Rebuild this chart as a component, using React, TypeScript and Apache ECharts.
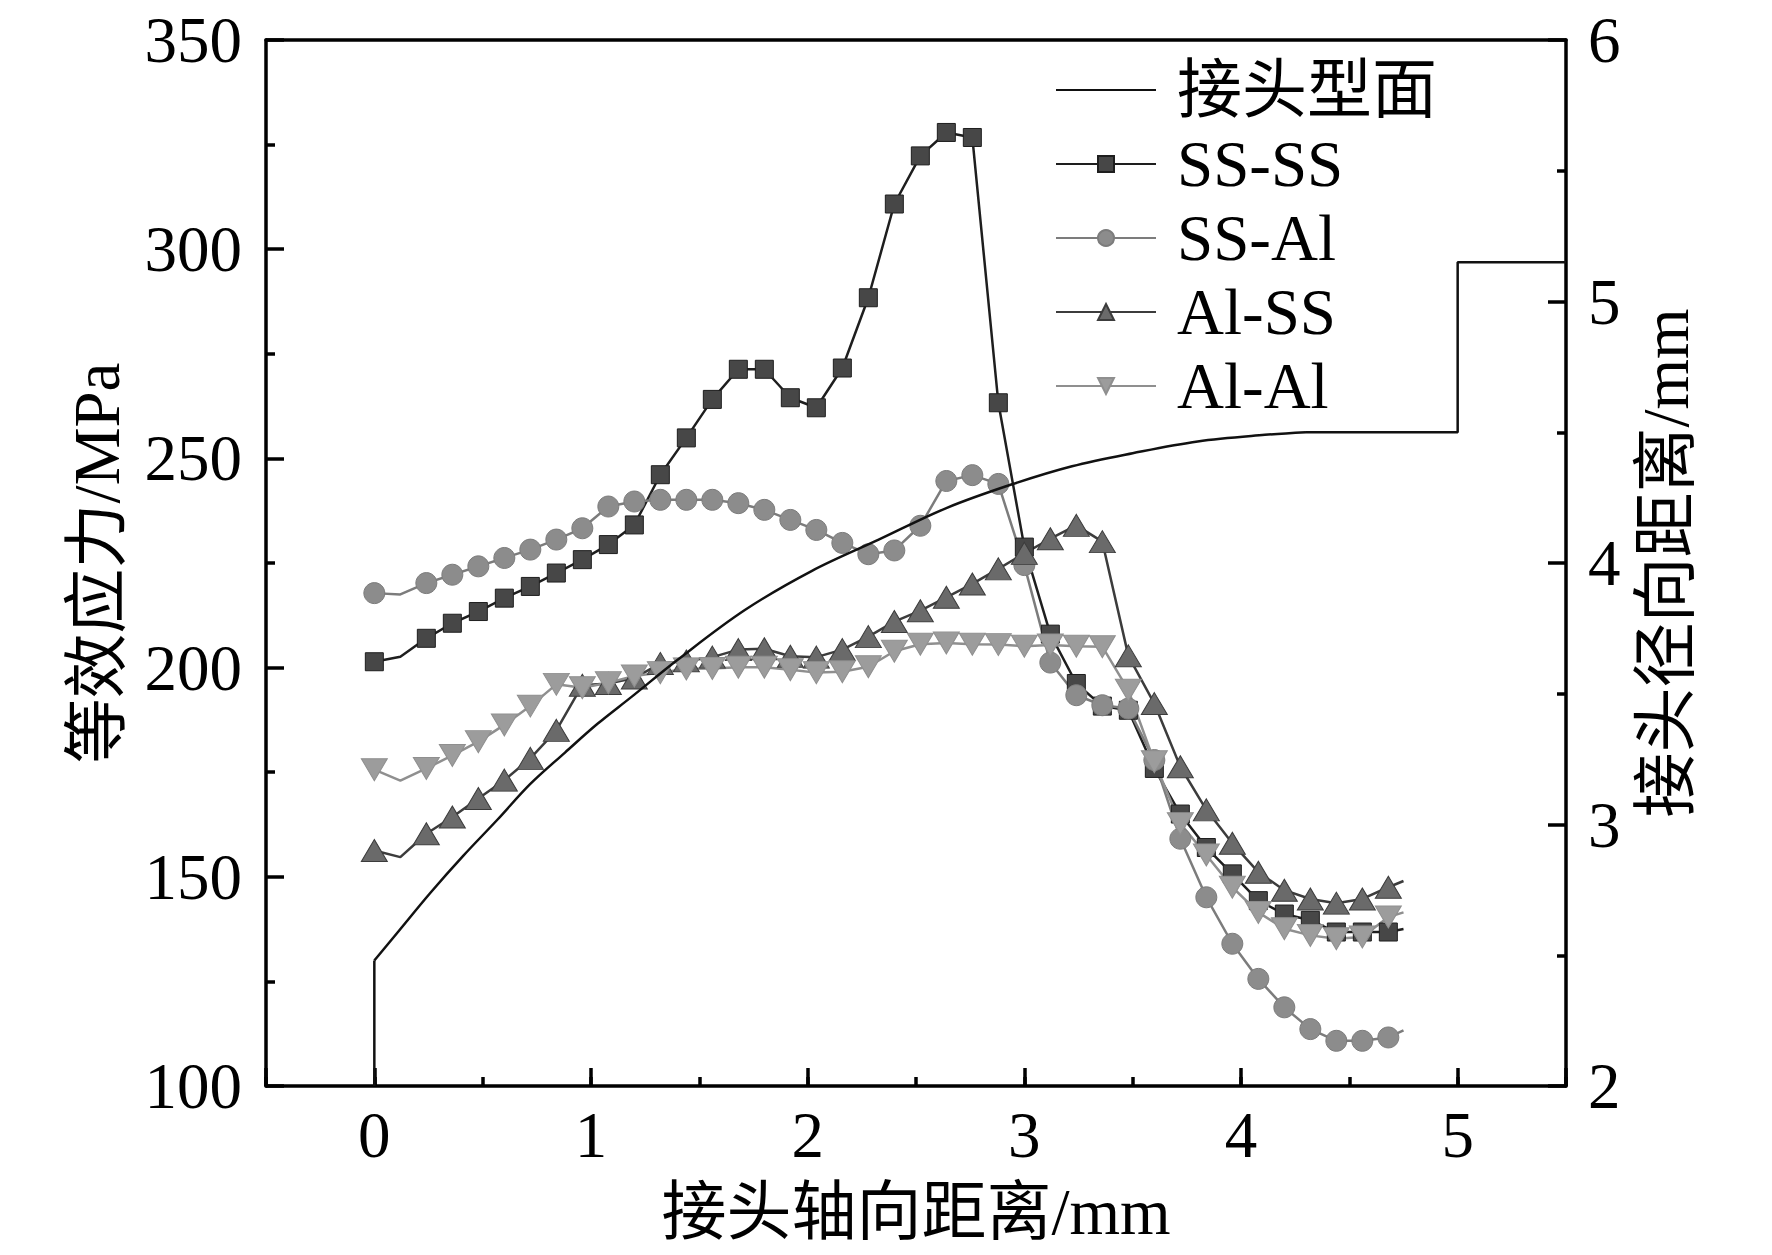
import { useEffect, useRef } from 'react'
import * as echarts from 'echarts'

// axial sampling positions (mm); the 2nd and the last point carry no marker
const axialPos = [
  0, 0.12, 0.24, 0.36, 0.48, 0.6, 0.72, 0.84, 0.96, 1.08, 1.2, 1.32, 1.44, 1.56,
  1.68, 1.8, 1.92, 2.04, 2.16, 2.28, 2.4, 2.52, 2.64, 2.76, 2.88, 3.0, 3.12, 3.24,
  3.36, 3.48, 3.6, 3.72, 3.84, 3.96, 4.08, 4.2, 4.32, 4.44, 4.56, 4.68, 4.75,
]
const hiddenMarkers = [1, 40]

const ssSS = [
  201.4, 202.6, 207, 210.6, 213.4, 216.6, 219.4, 222.6, 225.8, 229.4,
  234.1, 246.1, 254.9, 264.1, 271.3, 271.3, 264.5, 262.1, 271.6, 288.4,
  310.8, 322.3, 327.9, 326.7, 263.3, 228.8, 208, 196.2, 190.8, 189.8,
  175.9, 165, 157, 150.7, 144.3, 141.1, 139.6, 136.8, 136.8, 136.8, 137.5,
]
const ssAl = [
  217.8, 217.5, 220.2, 222.2, 224.2, 226.2, 228.2, 230.6, 233.3, 238.5,
  239.7, 240.1, 240.1, 240.1, 239.3, 237.7, 235.3, 232.9, 229.8, 227.1,
  228, 233.9, 244.6, 246, 243.9, 224.5, 201.2, 193.4, 191, 190.2,
  177.9, 159.1, 145.1, 134, 125.6, 118.8, 113.6, 110.8, 110.8, 111.6, 113.3,
]
const alSS = [
  156.3, 154.7, 160.3, 164.3, 168.7, 173.1, 178.3, 185, 195.8, 196.2,
  197.5, 201, 201.6, 202.5, 204.3, 204.5, 202.7, 202.5, 204.3, 207.4,
  211, 213.6, 216.8, 220, 223.6, 227.3, 230.8, 234, 230.1, 202.8,
  191.4, 176.3, 166, 158, 151.1, 146.8, 144.7, 143.7, 144.7, 147.5, 149,
]
const alAl = [
  175.6, 173, 175.9, 179, 182.3, 186.3, 190.8, 196, 195.2, 196.4,
  198, 198.8, 199.7, 199.8, 200.1, 200.1, 199.5, 198.8, 199, 200.2,
  203.9, 205.6, 205.9, 205.6, 205.5, 205.1, 205.4, 205.1, 205, 194.6,
  177.5, 162.7, 155.2, 147.5, 141.5, 137.6, 136, 135.2, 135.6, 140.4, 141.5,
]

// joint profile: axial position (mm) vs radial distance (mm)
// curved part (drawn smooth)
const profileCurveX = [
  0, 0.11, 0.26, 0.41, 0.57, 0.72, 0.88, 1.03, 1.19, 1.4, 1.71, 2.02, 2.33,
  2.64, 2.94, 3.22, 3.5, 3.8, 4.11, 4.3,
]
const profileCurveR = [
  2.48, 2.59, 2.74, 2.88, 3.02, 3.155, 3.275, 3.385, 3.49, 3.63, 3.82, 3.97, 4.09,
  4.21, 4.3, 4.37, 4.42, 4.465, 4.49, 4.5,
]
// straight parts: start at the root, step at the end
const profileStartX = [0, 0]
const profileStartR = [2.0, 2.48]
const profileEndX = [4.3, 5.0, 5.0, 5.5]
const profileEndR = [4.5, 4.5, 5.15, 5.15]

const leftTicks = [100, 350, 50]
const rightTicks = [2, 6, 1]

const SERIF = "'Liberation Serif', 'Times New Roman', 'Noto Sans CJK SC', serif"
const FS = 65
const PROFILE = '接头型面'

function stressData(values: number[]) {
  return axialPos.map((x, i) =>
    hiddenMarkers.includes(i) ? { value: [x, values[i]], symbol: 'none' } : [x, values[i]]
  )
}

function stressSeries(
  name: string,
  values: number[],
  symbol: string,
  symbolSize: number | number[],
  fill: string,
  line: string
) {
  return {
    name,
    type: 'line',
    xAxisIndex: 0,
    yAxisIndex: 0,
    data: stressData(values),
    symbol,
    symbolSize,
    showAllSymbol: true,
    lineStyle: { color: line, width: 2.5 },
    itemStyle: { color: fill, borderColor: line, borderWidth: 1 },
  }
}

export default function App() {
  const ref = useRef<HTMLDivElement>(null)

  useEffect(() => {
    if (!ref.current) return
    const chart = echarts.init(ref.current, undefined, { renderer: 'svg' })

    const axisLine = { show: true, onZero: false, lineStyle: { color: '#000', width: 3.5 } }
    const tickStyle = { color: '#000', width: 3.5 }
    const profileBase = {
      name: PROFILE,
      type: 'line',
      xAxisIndex: 0,
      yAxisIndex: 1,
      symbol: 'none',
      lineStyle: { color: '#111', width: 2.5 },
      itemStyle: { color: '#111' },
      z: 5,
    }

    chart.setOption({
      animation: false,
      backgroundColor: '#fff',
      textStyle: { fontFamily: SERIF },
      grid: { left: 266, right: 206, top: 40, bottom: 169, containLabel: false },
      legend: {
        orient: 'vertical',
        left: 1050,
        top: 52,
        itemWidth: 100,
        itemHeight: 20,
        itemGap: 8,
        data: [
          { name: PROFILE, itemStyle: { opacity: 0 } },
          'SS-SS',
          'SS-Al',
          'Al-SS',
          'Al-Al',
        ],
        textStyle: {
          fontFamily: SERIF,
          fontSize: FS,
          color: '#000',
          lineHeight: 66,
          padding: [0, 0, 0, 16],
        },
      },
      xAxis: [
        {
          type: 'value',
          position: 'bottom',
          min: -0.5,
          max: 5.5,
          splitNumber: 6,
          name: '接头轴向距离/mm',
          nameLocation: 'middle',
          nameGap: 93,
          nameTextStyle: { fontFamily: SERIF, fontSize: FS, color: '#000' },
          axisLine,
          axisTick: { show: true, inside: true, length: 18, lineStyle: tickStyle },
          axisLabel: {
            fontFamily: SERIF,
            fontSize: FS,
            color: '#000',
            margin: 16,
            formatter: (v: number) => (Number.isInteger(v) ? String(v) : ''),
          },
          splitLine: { show: false },
        },
        {
          type: 'value',
          position: 'bottom',
          min: -0.5,
          max: 5.5,
          interval: 0.5,
          axisLine: { show: false, onZero: false },
          axisTick: { show: true, inside: true, length: 9, lineStyle: tickStyle },
          axisLabel: { show: false },
          splitLine: { show: false },
        },
        {
          type: 'value',
          position: 'top',
          min: -0.5,
          max: 5.5,
          axisLine,
          axisTick: { show: false },
          axisLabel: { show: false },
          splitLine: { show: false },
        },
      ],
      yAxis: [
        {
          type: 'value',
          position: 'left',
          min: leftTicks[0],
          max: leftTicks[1],
          interval: leftTicks[2],
          name: '等效应力/MPa',
          nameLocation: 'middle',
          nameRotate: 90,
          nameGap: 137,
          nameTextStyle: { fontFamily: SERIF, fontSize: FS, color: '#000' },
          axisLine,
          axisTick: { show: true, inside: true, length: 18, lineStyle: tickStyle },
          minorTick: { show: true, splitNumber: 2, length: 9, lineStyle: tickStyle },
          axisLabel: { fontFamily: SERIF, fontSize: FS, color: '#000', margin: 24, lineHeight: 54 },
          splitLine: { show: false },
        },
        {
          type: 'value',
          position: 'right',
          min: rightTicks[0],
          max: rightTicks[1],
          interval: rightTicks[2],
          name: '接头径向距离/mm',
          nameLocation: 'middle',
          nameRotate: 90,
          nameGap: 67,
          nameTextStyle: { fontFamily: SERIF, fontSize: FS, color: '#000' },
          axisLine,
          axisTick: { show: true, inside: true, length: 18, lineStyle: tickStyle },
          minorTick: { show: true, splitNumber: 2, length: 9, lineStyle: tickStyle },
          axisLabel: { fontFamily: SERIF, fontSize: FS, color: '#000', margin: 22, lineHeight: 54 },
          splitLine: { show: false },
        },
      ],
      series: [
        stressSeries('SS-SS', ssSS, 'rect', 18, '#474747', '#1e1e1e'),
        stressSeries('SS-Al', ssAl, 'circle', 21, '#8c8c8c', '#7c7c7c'),
        stressSeries('Al-SS', alSS, 'triangle', [26, 22], '#6a6a6a', '#3c3c3c'),
        stressSeries('Al-Al', alAl, 'path://M0,0 L2,0 L1,1.7 Z', [26, 22], '#9c9c9c', '#8f8f8f'),
        {
          ...profileBase,
          smooth: 0.35,
          data: profileCurveX.map((x, i) => [x, profileCurveR[i]]),
        },
        {
          ...profileBase,
          data: [
            ...profileStartX.map((x, i) => [x, profileStartR[i]]),
            [2, '-'],
            ...profileEndX.map((x, i) => [x, profileEndR[i]]),
          ],
        },
      ],
    })

    return () => chart.dispose()
  }, [])

  return (
    <div
      ref={ref}
      style={{ position: 'absolute', left: 0, top: 0, width: 1772, height: 1255, background: '#fff' }}
    />
  )
}
